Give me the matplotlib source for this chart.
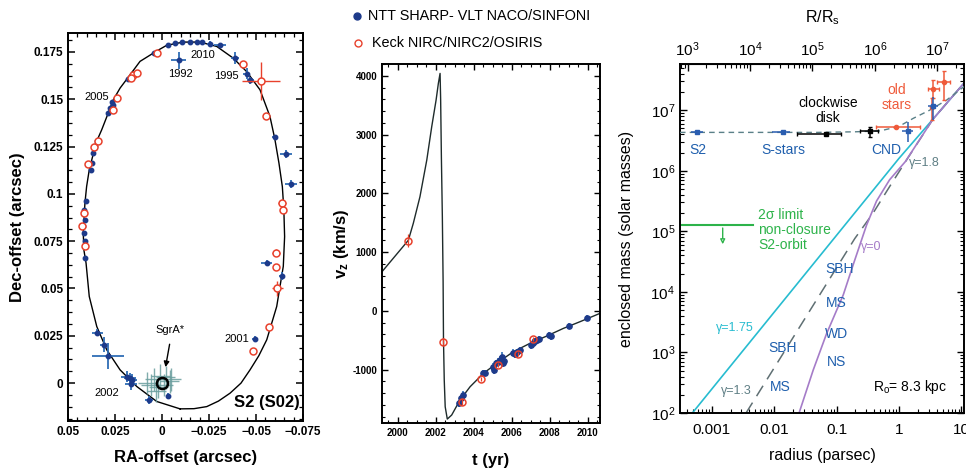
import matplotlib
matplotlib.use('Agg')
import matplotlib.pyplot as plt
from matplotlib.ticker import MultipleLocator, FuncFormatter, LogLocator, NullFormatter
from matplotlib.lines import Line2D

plt.rcParams['font.family'] = ['Liberation Sans', 'DejaVu Sans']
plt.rcParams['mathtext.fontset'] = 'custom'
plt.rcParams['mathtext.rm'] = 'Liberation Sans'
plt.rcParams['mathtext.it'] = 'Liberation Sans:italic'
plt.rcParams['mathtext.bf'] = 'Liberation Sans:bold'

BLUE = '#1d3a8a'
BLUE_ERR = '#2f6db5'
RED = '#e8412c'
TEAL = '#6a9e9e'

# ---------------- panel 1: S2 orbit on the sky ----------------
orbit_ra = [-0.0096, -0.0170, -0.0238, -0.0300, -0.0362, -0.0420, -0.0468, -0.0515,
            -0.0557, -0.0610, -0.0645, -0.0652, -0.0648, -0.0640, -0.0622, -0.0600,
            -0.0574, -0.0521, -0.0450, -0.0379, -0.0291, -0.0202, -0.0113, -0.0025,
            0.0028, 0.0117, 0.0170, 0.0223, 0.0259, 0.0286, 0.0321, 0.0348, 0.0369,
            0.0387, 0.0401, 0.0410, 0.0415, 0.0419, 0.0415, 0.0404, 0.0387, 0.0347,
            0.0294, 0.0223, 0.0134, 0.0028, -0.0096]
orbit_dec = [-0.0136, -0.0135, -0.0124, -0.0095, -0.0053, 0.0000, 0.0070, 0.0145,
             0.0229, 0.0405, 0.0617, 0.0774, 0.0915, 0.1038, 0.1162, 0.1290,
             0.1409, 0.1550, 0.1646, 0.1717, 0.1779, 0.1802, 0.1802, 0.1785,
             0.1755, 0.1700, 0.1629, 0.1559, 0.1497, 0.1427, 0.1338, 0.1277, 0.1198,
             0.1127, 0.1039, 0.0951, 0.0863, 0.0793, 0.0700, 0.0634, 0.0458, 0.0299,
             0.0176, 0.0070, -0.0018, -0.0097, -0.0136]

vlt_ra = [-0.0034, -0.0069, -0.0105, -0.0149, -0.0184, -0.0211, -0.0255, -0.0309,
          -0.0090, -0.0388, -0.0450, -0.0470, -0.0601, -0.0660, -0.0686, -0.0557,
          -0.0637, -0.0495, 0.0045, 0.0180, 0.0268, 0.0260, 0.0277, 0.0286, 0.0347,
          0.0356, 0.0365, 0.0374, 0.0378, 0.0404, 0.0415, 0.0410, 0.0419, 0.0413,
          0.0410, 0.0410, 0.0344, 0.0310, 0.0286, 0.0188, 0.0170, 0.0161, 0.0165,
          0.0068, -0.0034]
vlt_dec = [0.1788, 0.1797, 0.1800, 0.1800, 0.1802, 0.1800, 0.1792, 0.1784,
           0.1706, 0.1718, 0.1635, 0.1600, 0.1298, 0.1212, 0.1053, 0.0634,
           0.0567, 0.0233, 0.1744, 0.1608, 0.1488, 0.1471, 0.1454, 0.1427, 0.1277,
           0.1251, 0.1216, 0.1163, 0.1127, 0.0960, 0.0916, 0.0863, 0.0828, 0.0793,
           0.0749, 0.0661, 0.0267, 0.0202, 0.0144, 0.0035, 0.0026, 0.0018, -0.0004,
           -0.0088, -0.0066]
vlt_era = [0.001, 0.001, 0.001, 0.001, 0.001, 0.001, 0.0015, 0.003,
           0.004, 0.002, 0.002, 0.002, 0.0015, 0.003, 0.003, 0.003,
           0.0015, 0.0015, 0.001, 0.001, 0.001, 0.001, 0.001, 0.001, 0.001,
           0.001, 0.001, 0.001, 0.001, 0.001, 0.001, 0.001, 0.001, 0.001,
           0.001, 0.001, 0.003, 0.002, 0.0085, 0.003, 0.003, 0.003, 0.003,
           0.002, 0.0015]
vlt_edec = [0.001, 0.001, 0.001, 0.001, 0.001, 0.001, 0.0015, 0.0015,
            0.0044, 0.003, 0.003, 0.002, 0.0015, 0.002, 0.002, 0.0015,
            0.002, 0.0015, 0.001, 0.001, 0.001, 0.001, 0.001, 0.001, 0.001,
            0.001, 0.001, 0.001, 0.001, 0.001, 0.001, 0.001, 0.001, 0.001,
            0.001, 0.001, 0.002, 0.004, 0.007, 0.003, 0.003, 0.003, 0.003,
            0.002, 0.0015]

keck_ra = [-0.0429, -0.0527, -0.0551, -0.0637, -0.0645, -0.0606, -0.0606, -0.0613,
           -0.0569, -0.0482, 0.0028, 0.0153, 0.0135, 0.0166, 0.0238, 0.0260,
           0.0360, 0.0339, 0.0395, 0.0415, 0.0423, 0.0410]
keck_dec = [0.1686, 0.1598, 0.1409, 0.0951, 0.0916, 0.0690, 0.0611, 0.0500,
            0.0296, 0.0172, 0.1744, 0.1630, 0.1640, 0.1610, 0.1505, 0.1445,
            0.1250, 0.1277, 0.1159, 0.0899, 0.0828, 0.0722]
keck_era = [0.0, 0.010, 0.0, 0.002, 0.0, 0.002, 0.0, 0.003,
            0.0, 0.0, 0.0, 0.0, 0.0, 0.0, 0.0, 0.0,
            0.0, 0.0, 0.0, 0.0, 0.0, 0.0]
keck_edec = [0.0, 0.010, 0.0, 0.002, 0.0, 0.002, 0.0, 0.004,
             0.0, 0.0, 0.0, 0.0, 0.0, 0.0, 0.0, 0.0,
             0.0, 0.0, 0.0, 0.0, 0.0, 0.0]

sgra_ra = [0.0040, 0.0020, -0.0020, 0.0060, -0.0040, 0.0010, 0.0080, -0.0050, 0.0030, -0.0010]
sgra_dec = [0.0020, -0.0020, 0.0030, -0.0010, 0.0010, 0.0040, 0.0000, 0.0020, -0.0040, -0.0010]

year_labels = ['2010', '1992', '1995', '2005', '2001', '2002']
year_ra = [-0.0218, -0.0096, -0.0344, 0.0347, -0.0397, 0.0291]
year_dec = [0.1735, 0.1633, 0.1624, 0.1510, 0.0233, -0.0053]

# ---------------- panel 2: radial velocity ----------------
curve_t = [1999.17, 2000.56, 2000.82, 2001.17, 2001.53, 2001.79, 2002.02, 2002.14,
           2002.23, 2002.26, 2002.30, 2002.35, 2002.39, 2002.41, 2002.45, 2002.50,
           2002.61, 2002.84, 2003.28, 2003.81, 2004.51, 2005.21, 2006.08, 2006.96,
           2007.84, 2008.72, 2009.59, 2010.65]
curve_v = [664, 1200, 1488, 1940, 2565, 3132, 3586, 3870,
           4040, 3600, 2600, 1600, 500, -500, -1180, -1634,
           -1843, -1775, -1520, -1293, -1066, -895, -698, -555,
           -431, -300, -187, -44]

vlt_t = [2003.24, 2003.32, 2003.42, 2004.47, 2004.59, 2005.03, 2005.08, 2005.17,
         2005.29, 2005.38, 2005.47, 2005.52, 2005.59, 2006.05, 2006.17, 2006.29,
         2006.44, 2007.02, 2007.11, 2007.23, 2007.35, 2007.45, 2007.96, 2008.07,
         2009.03, 2009.95]
vlt_v = [-1577, -1491, -1435, -1066, -1055, -953, -1009, -895,
         -868, -839, -783, -895, -851, -715, -737, -698,
         -669, -584, -545, -516, -499, -487, -414, -431,
         -255, -119]
vlt_ev = [60, 60, 70, 50, 50, 70, 70, 60,
          60, 70, 80, 70, 70, 60, 60, 50,
          50, 60, 60, 50, 50, 50, 50, 60,
          40, 40]

keck_t = [2000.56, 2002.40, 2003.40, 2004.38, 2005.29, 2006.32, 2007.14]
keck_v = [1191, -527, -1560, -1163, -924, -737, -482]
keck_ev = [110, 60, 50, 40, 40, 40, 40]

# ---------------- panel 3: enclosed mass ----------------
RS = 4.1e-7  # Schwarzschild radius in pc

total_r = [3.1e-4, 0.05, 0.2, 0.5, 1.0, 1.7, 3.1, 5.8, 11.0]
total_m = [4.3e6, 4.3e6, 4.4e6, 4.55e6, 5.4e6, 7.35e6, 1.0e7, 1.47e7, 2.45e7]

g175_r = [4.9e-4, 1.0, 3.5, 11.5]
g175_m = [100, 1.6e6, 7.1e6, 2.95e7]

g13_r = [3.55e-3, 0.196, 0.385, 0.71, 1.32, 3.5, 11.5]
g13_m = [100, 7.6e4, 2.0e5, 5.5e5, 1.5e6, 7.1e6, 2.95e7]

g0_r = [0.0251, 0.0423, 0.0692, 0.128, 0.185, 0.302, 0.437, 0.708, 1.26, 3.5, 11.5]
g0_m = [100, 513, 2040, 8900, 28200, 1.26e5, 3.16e5, 7.1e5, 1.41e6, 7.1e6, 2.95e7]

blue_r = [5.8e-4, 0.0137, 1.37, 3.52]
blue_r_lo = [4.7e-4, 9.1e-3, 1.10, 2.92]
blue_r_hi = [7.2e-4, 0.0179, 1.68, 4.23]
blue_m = [4.4e6, 4.4e6, 4.6e6, 1.17e7]
blue_m_lo = [4.4e6, 4.4e6, 3.0e6, 6.9e6]
blue_m_hi = [4.4e6, 4.4e6, 6.45e6, 1.66e7]

black_r = [0.069, 0.341]
black_r_lo = [0.0229, 0.234]
black_r_hi = [0.120, 0.463]
black_m = [4.05e6, 4.53e6]
black_m_lo = [4.05e6, 3.56e6]
black_m_hi = [4.05e6, 5.2e6]

old_r = [0.89, 3.5, 5.2, 3.4]
old_r_lo = [0.436, 2.9, 4.0, 3.4]
old_r_hi = [2.15, 4.3, 6.5, 3.4]
old_m = [5.33e6, 2.28e7, 2.88e7, 1.15e7]
old_m_lo = [5.33e6, 1.6e7, 1.5e7, 7.0e6]
old_m_hi = [5.33e6, 3.1e7, 4.4e7, 1.6e7]

limit_m = 1.26e5
limit_r_end = 4.6e-3
limit_arrow_r = 1.5e-3
limit_arrow_m = 5.5e4


def ins(ax, **kw):
    ax.tick_params(which='both', direction='in', top=True, right=True, **kw)


fig = plt.figure(figsize=(9.66, 4.70), dpi=100)

# ---- panel 1
ax1 = fig.add_axes([0.0704, 0.1043, 0.2433, 0.8255])
ax1.plot(orbit_ra, orbit_dec, color='black', lw=1.0, zorder=2)
ax1.errorbar(sgra_ra, sgra_dec, xerr=0.005, yerr=0.006, fmt='none',
             ecolor=TEAL, elinewidth=1.0, alpha=0.85, zorder=3)
ax1.errorbar(vlt_ra, vlt_dec, xerr=vlt_era, yerr=vlt_edec, fmt='o', ms=3.2,
             color=BLUE, ecolor=BLUE_ERR, elinewidth=1.3, zorder=4)
ax1.errorbar(keck_ra, keck_dec, xerr=keck_era, yerr=keck_edec, fmt='o', ms=5,
             mfc='white', mec=RED, mew=1.1, ecolor=RED, elinewidth=1.0, zorder=5)
ax1.plot([0], [0], 'o', ms=8, mfc='none', mec='black', mew=1.8, zorder=6)
ax1.annotate('', xy=(-0.0016, 0.007), xytext=(-0.0043, 0.022),
             arrowprops=dict(arrowstyle='-|>', color='black', lw=1.0, mutation_scale=8))
ax1.text(-0.0043, 0.028, 'SgrA*', ha='center', va='center', fontsize=8)
for lab, xr, yd in zip(year_labels, year_ra, year_dec):
    ax1.text(xr, yd, lab, ha='center', va='center', fontsize=8)
ax1.text(-0.0557, -0.0103, 'S2 (S02)', ha='center', va='center', fontsize=12,
         fontweight='bold')
ax1.set_xlim(0.05, -0.075)
ax1.set_ylim(-0.020, 0.185)
ax1.xaxis.set_major_locator(MultipleLocator(0.025))
ax1.xaxis.set_minor_locator(MultipleLocator(0.005))
ax1.yaxis.set_major_locator(MultipleLocator(0.025))
ax1.yaxis.set_minor_locator(MultipleLocator(0.025 / 4))
fmt1 = FuncFormatter(lambda v, p: ('%g' % round(v, 4)).replace('-', '\u2212'))
ax1.xaxis.set_major_formatter(fmt1)
ax1.yaxis.set_major_formatter(fmt1)
ins(ax1, labelsize=8.5)
ax1.tick_params(which='major', length=5, width=1.1)
ax1.tick_params(which='minor', length=3, width=0.9)
for lab in ax1.get_xticklabels() + ax1.get_yticklabels():
    lab.set_fontweight('bold')
for s in ax1.spines.values():
    s.set_linewidth(1.4)
ax1.set_xlabel('RA-offset (arcsec)', fontsize=12, fontweight='bold', labelpad=9)
ax1.set_ylabel('Dec-offset (arcsec)', fontsize=12, fontweight='bold', labelpad=6)

# ---- panel 2
ax2 = fig.add_axes([0.3954, 0.100, 0.2257, 0.7638])
ax2.plot(curve_t, curve_v, color='#1e2b2b', lw=1.0, zorder=2)
ax2.errorbar(vlt_t, vlt_v, yerr=vlt_ev, fmt='o', ms=3.8, color=BLUE,
             ecolor=BLUE_ERR, elinewidth=1.2, zorder=4)
ax2.errorbar(keck_t, keck_v, yerr=keck_ev, fmt='o', ms=5, mfc='none', mec=RED,
             mew=1.1, ecolor=RED, elinewidth=0.9, zorder=5)
ax2.set_xlim(1999.17, 2010.65)
ax2.set_ylim(-1910, 4200)
ax2.xaxis.set_major_locator(MultipleLocator(2))
ax2.xaxis.set_minor_locator(MultipleLocator(0.5))
ax2.yaxis.set_major_locator(MultipleLocator(1000))
ax2.yaxis.set_minor_locator(MultipleLocator(200))
ax2.yaxis.set_major_formatter(FuncFormatter(lambda v, p: '%d' % v))
ax2.xaxis.set_major_formatter(FuncFormatter(lambda v, p: '%d' % v))
ins(ax2, labelsize=7)
ax2.tick_params(which='major', length=4, width=1.0)
ax2.tick_params(which='minor', length=2.5, width=0.8)
for lab in ax2.get_xticklabels() + ax2.get_yticklabels():
    lab.set_fontweight('bold')
for s in ax2.spines.values():
    s.set_linewidth(1.4)
ax2.set_xlabel('t (yr)', fontsize=12, fontweight='bold', labelpad=11)
ax2.set_ylabel(r'v$_\mathbf{z}$ (km/s)', fontsize=12, fontweight='bold', labelpad=1)

# legend above panel 2
fig.add_artist(Line2D([356.7 / 966], [1 - 16 / 470], marker='o', ms=5, color=BLUE,
                      transform=fig.transFigure))
fig.text(368 / 966, 1 - 16 / 470, 'NTT SHARP- VLT NACO/SINFONI', fontsize=10.4,
         va='center', ha='left')
fig.add_artist(Line2D([358 / 966], [1 - 43 / 470], marker='o', ms=5, mfc='none',
                      mec=RED, mew=1.0, transform=fig.transFigure))
fig.text(371.7 / 966, 1 - 43 / 470, 'Keck NIRC/NIRC2/OSIRIS', fontsize=10.4,
         va='center', ha='left')

# ---- panel 3
ax3 = fig.add_axes([0.7039, 0.1213, 0.2940, 0.7426])
ax3.set_xscale('log')
ax3.set_yscale('log')
ax3.plot(g175_r, g175_m, color='#27bcd0', lw=1.2, zorder=2)
ax3.plot(g13_r, g13_m, color='#5f6f73', lw=1.1, ls=(0, (8, 5)), zorder=2)
ax3.plot(g0_r, g0_m, color='#a57cc8', lw=1.2, zorder=2)
ax3.plot(total_r, total_m, color='#5a8088', lw=1.0, ls=(0, (4, 3)), zorder=3)


def errs(v, lo, hi):
    return [[a - b for a, b in zip(v, lo)], [b - a for a, b in zip(v, hi)]]


ax3.errorbar(blue_r, blue_m, xerr=errs(blue_r, blue_r_lo, blue_r_hi),
             yerr=errs(blue_m, blue_m_lo, blue_m_hi), fmt='s', ms=3, color='#2a5db0',
             elinewidth=1.1, zorder=5)
ax3.errorbar(black_r, black_m, xerr=errs(black_r, black_r_lo, black_r_hi),
             yerr=errs(black_m, black_m_lo, black_m_hi), fmt='s', ms=3.5, color='black',
             elinewidth=1.1, capsize=1.5, zorder=5)
ax3.errorbar(old_r, old_m, xerr=errs(old_r, old_r_lo, old_r_hi),
             yerr=errs(old_m, old_m_lo, old_m_hi), fmt='o', ms=3, color='#ef5a3a',
             elinewidth=1.1, capsize=1.5, zorder=4)

GREEN = '#2db34a'
ax3.plot([3.1e-4, limit_r_end], [limit_m, limit_m], color=GREEN, lw=1.5)
ax3.annotate('', xy=(limit_arrow_r, limit_arrow_m), xytext=(limit_arrow_r, limit_m),
             arrowprops=dict(arrowstyle='-|>', color=GREEN, lw=1.0, fc='white',
                             mutation_scale=7))
ax3.text(5.5e-3, 1.05e5, '2\u03c3 limit\nnon-closure\nS2-orbit', color=GREEN,
         fontsize=10, ha='left', va='center', linespacing=1.05)

tb = '#1f5fad'
ax3.text(6.1e-4, 2.2e6, 'S2', color=tb, fontsize=10, ha='center', va='center')
ax3.text(0.014, 2.2e6, 'S-stars', color=tb, fontsize=10, ha='center', va='center')
ax3.text(0.63, 2.2e6, 'CND', color=tb, fontsize=10, ha='center', va='center')
ax3.text(0.0735, 9.8e6, 'clockwise\ndisk', color='black', fontsize=10, ha='center',
         va='center', linespacing=1.1)
ax3.text(0.91, 1.6e7, 'old\nstars', color='#ef5a3a', fontsize=10, ha='center',
         va='center', linespacing=1.1)
ax3.text(2.59, 1.32e6, '\u03b3=1.8', color='#5f7f85', fontsize=9, ha='center', va='center')
ax3.text(0.363, 5.5e4, '\u03b3=0', color='#a57cc8', fontsize=9, ha='center', va='center')
ax3.text(2.36e-3, 2.58e3, '\u03b3=1.75', color='#27bcd0', fontsize=9, ha='center',
         va='center')
ax3.text(2.5e-3, 228, '\u03b3=1.3', color='#5f7f85', fontsize=9, ha='center', va='center')
for lab, xr, ym in [('SBH', 0.110, 2.35e4), ('MS', 0.100, 6.6e3), ('WD', 0.100, 2.05e3),
                    ('NS', 0.100, 697), ('SBH', 0.0137, 1.2e3), ('MS', 0.0124, 269)]:
    ax3.text(xr, ym, lab, color=tb, fontsize=10, ha='center', va='center')
ax3.text(1.49, 269, r'R$_\mathrm{o}$= 8.3 kpc', color='black', fontsize=10,
         ha='center', va='center')

ax3.set_xlim(3.1e-4, 11)
ax3.set_ylim(1e2, 5.8e7)
ax3.xaxis.set_major_formatter(FuncFormatter(lambda v, p: '%g' % v))
ax3.xaxis.set_minor_formatter(NullFormatter())
ax3.yaxis.set_minor_formatter(NullFormatter())
ax3.tick_params(which='both', direction='in', top=False, right=True, labelsize=11)
ax3.tick_params(axis='x', pad=7)
ax3.tick_params(which='major', length=5, width=1.0)
ax3.tick_params(which='minor', length=3, width=0.8)
for s in ax3.spines.values():
    s.set_linewidth(1.4)
ax3.set_xlabel('radius (parsec)', fontsize=11.5, labelpad=8)
ax3.set_ylabel('enclosed mass (solar masses)', fontsize=11.5, labelpad=12)

sec = ax3.secondary_xaxis('top', functions=(lambda r: r / RS, lambda q: q * RS))
sec.xaxis.set_major_locator(LogLocator(base=10))
sec.xaxis.set_minor_formatter(NullFormatter())
sec.tick_params(which='both', direction='in', labelsize=11)
sec.tick_params(which='major', length=5, width=1.0)
sec.tick_params(which='minor', length=3, width=0.8)
sec.set_xlabel(r'R/R$_\mathrm{s}$', fontsize=11.5, labelpad=13)

fig.savefig('out.png', dpi=100)
